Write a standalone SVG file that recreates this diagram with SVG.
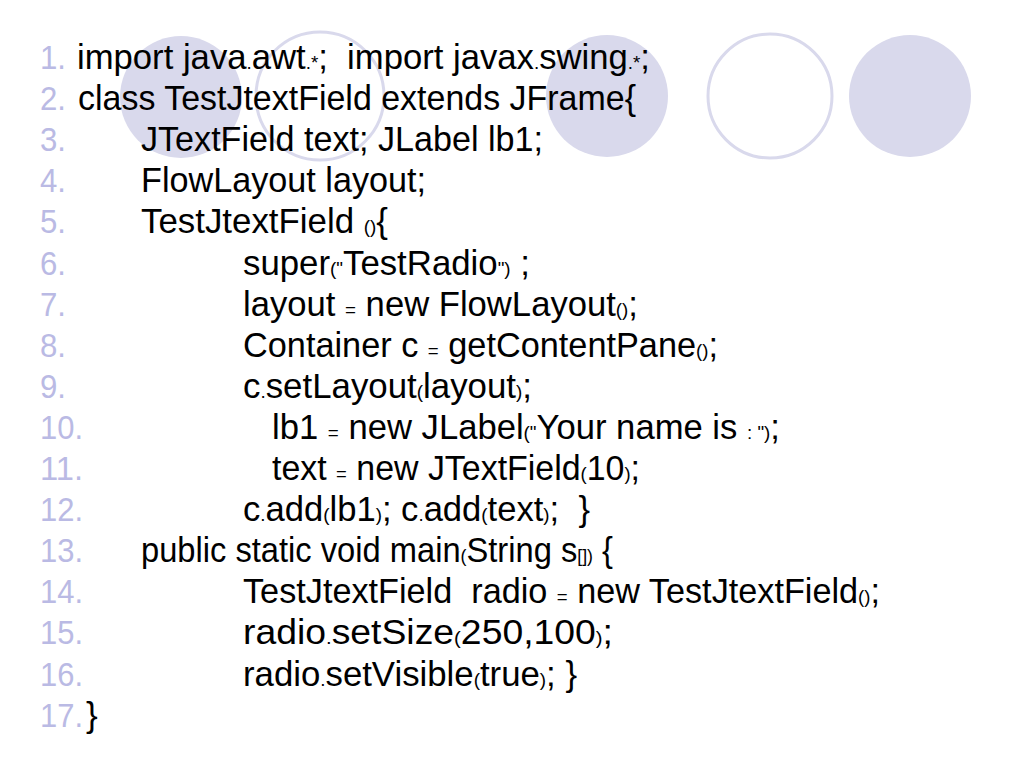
<svg xmlns="http://www.w3.org/2000/svg" width="1024" height="768" viewBox="0 0 1024 768">
<style>
.bg{fill:#ffffff}
.cf{fill:#d9d9ec}
.co{fill:none;stroke:#d9d9ec;stroke-width:3}
.n{font-family:"Liberation Sans",Arial,sans-serif;font-size:33px;fill:#babae4}
.t{font-family:"Liberation Sans",Arial,sans-serif;font-size:35px;fill:#000000;white-space:pre}
.s{font-size:19px}
</style>
<rect class="bg" x="0" y="0" width="1024" height="768"/>
<g id="circles">
<circle class="cf" cx="181" cy="97" r="61"/>
<circle class="co" cx="320" cy="96" r="64"/>
<circle class="cf" cx="607" cy="96" r="61"/>
<circle class="co" cx="770" cy="96" r="62"/>
<circle class="cf" cx="910" cy="96" r="61"/>
</g>
<g id="numbers">
<text class="n" x="40" y="69" textLength="26" lengthAdjust="spacingAndGlyphs">1.</text>
<text class="n" x="40" y="110.1" textLength="26" lengthAdjust="spacingAndGlyphs">2.</text>
<text class="n" x="40" y="151.2" textLength="26" lengthAdjust="spacingAndGlyphs">3.</text>
<text class="n" x="40" y="192.3" textLength="26" lengthAdjust="spacingAndGlyphs">4.</text>
<text class="n" x="40" y="233.4" textLength="26" lengthAdjust="spacingAndGlyphs">5.</text>
<text class="n" x="40" y="274.5" textLength="26" lengthAdjust="spacingAndGlyphs">6.</text>
<text class="n" x="40" y="315.6" textLength="26" lengthAdjust="spacingAndGlyphs">7.</text>
<text class="n" x="40" y="356.7" textLength="26" lengthAdjust="spacingAndGlyphs">8.</text>
<text class="n" x="40" y="397.8" textLength="26" lengthAdjust="spacingAndGlyphs">9.</text>
<text class="n" x="40" y="438.9" textLength="43" lengthAdjust="spacingAndGlyphs">10.</text>
<text class="n" x="40" y="480" textLength="43" lengthAdjust="spacingAndGlyphs">11.</text>
<text class="n" x="40" y="521.1" textLength="43" lengthAdjust="spacingAndGlyphs">12.</text>
<text class="n" x="40" y="562.2" textLength="43" lengthAdjust="spacingAndGlyphs">13.</text>
<text class="n" x="40" y="603.3" textLength="43" lengthAdjust="spacingAndGlyphs">14.</text>
<text class="n" x="40" y="644.4" textLength="43" lengthAdjust="spacingAndGlyphs">15.</text>
<text class="n" x="40" y="685.5" textLength="43" lengthAdjust="spacingAndGlyphs">16.</text>
<text class="n" x="40" y="726.6" textLength="43" lengthAdjust="spacingAndGlyphs">17.</text>
</g>
<g id="code" xml:space="preserve">
<text class="t" x="77" y="69" textLength="573" lengthAdjust="spacingAndGlyphs">import java<tspan class="s">.</tspan>awt<tspan class="s">.*</tspan>;  import javax<tspan class="s">.</tspan>swing<tspan class="s">.*</tspan>;</text>
<text class="t" x="78" y="110.1" textLength="558" lengthAdjust="spacingAndGlyphs">class TestJtextField extends JFrame{</text>
<text class="t" x="141" y="151.2" textLength="402" lengthAdjust="spacingAndGlyphs">JTextField text; JLabel lb1;</text>
<text class="t" x="141" y="192.3" textLength="285" lengthAdjust="spacingAndGlyphs">FlowLayout layout;</text>
<text class="t" x="141" y="233.4" textLength="247" lengthAdjust="spacingAndGlyphs">TestJtextField <tspan class="s">()</tspan>{</text>
<text class="t" x="243" y="274.5" textLength="287" lengthAdjust="spacingAndGlyphs">super<tspan class="s">("</tspan>TestRadio<tspan class="s">")</tspan> ;</text>
<text class="t" x="243" y="315.6" textLength="395" lengthAdjust="spacingAndGlyphs">layout <tspan class="s">=</tspan> new FlowLayout<tspan class="s">()</tspan>;</text>
<text class="t" x="243" y="356.7" textLength="475" lengthAdjust="spacingAndGlyphs">Container c <tspan class="s">=</tspan> getContentPane<tspan class="s">()</tspan>;</text>
<text class="t" x="243" y="397.8" textLength="289" lengthAdjust="spacingAndGlyphs">c<tspan class="s">.</tspan>setLayout<tspan class="s">(</tspan>layout<tspan class="s">)</tspan>;</text>
<text class="t" x="272" y="438.9" textLength="508" lengthAdjust="spacingAndGlyphs">lb1 <tspan class="s">=</tspan> new JLabel<tspan class="s">("</tspan>Your name is <tspan class="s">: ")</tspan>;</text>
<text class="t" x="272" y="480" textLength="368" lengthAdjust="spacingAndGlyphs">text <tspan class="s">=</tspan> new JTextField<tspan class="s">(</tspan>10<tspan class="s">)</tspan>;</text>
<text class="t" x="243" y="521.1" textLength="347" lengthAdjust="spacingAndGlyphs">c<tspan class="s">.</tspan>add<tspan class="s">(</tspan>lb1<tspan class="s">)</tspan>; c<tspan class="s">.</tspan>add<tspan class="s">(</tspan>text<tspan class="s">)</tspan>;  }</text>
<text class="t" x="141" y="562.2" textLength="472" lengthAdjust="spacingAndGlyphs">public static void main<tspan class="s">(</tspan>String s<tspan class="s">[])</tspan> {</text>
<text class="t" x="243" y="603.3" textLength="637" lengthAdjust="spacingAndGlyphs">TestJtextField  radio <tspan class="s">=</tspan> new TestJtextField<tspan class="s">()</tspan>;</text>
<text class="t" x="243" y="644.4" textLength="370" lengthAdjust="spacingAndGlyphs">radio<tspan class="s">.</tspan>setSize<tspan class="s">(</tspan>250,100<tspan class="s">)</tspan>;</text>
<text class="t" x="243" y="685.5" textLength="334" lengthAdjust="spacingAndGlyphs">radio<tspan class="s">.</tspan>setVisible<tspan class="s">(</tspan>true<tspan class="s">)</tspan>; }</text>
<text class="t" x="86" y="726.6">}</text>
</g>
</svg>
